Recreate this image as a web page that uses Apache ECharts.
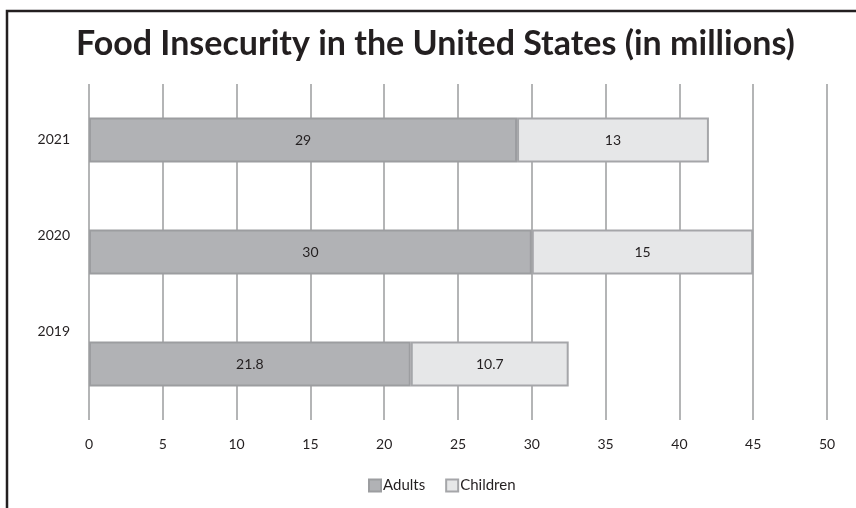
<!DOCTYPE html>
<html>
<head>
<meta charset="utf-8">
<script src="https://cdn.jsdelivr.net/npm/echarts@6/dist/echarts.min.js"></script>
<style>
html,body{margin:0;padding:0;background:#fff;}
#chart{width:856px;height:508px;}
</style>
</head>
<body>
<div id="chart"></div>
<script>
const categories = ['2019', '2020', '2021'];
const adults = [21.8, 30, 29];
const children = [10.7, 15, 13];
const xTicks = [0, 5, 10, 15, 20, 25, 30, 35, 40, 45, 50];
const titleText = 'Food Insecurity in the United States (in millions)';

const FONT = 'Lato';
const TEXT = '#231f20';

const chart = echarts.init(document.getElementById('chart'), null, {renderer: 'canvas'});
chart.setOption({
  backgroundColor: '#ffffff',
  animation: false,
  title: {
    text: titleText,
    left: 76,
    top: 27,
    padding: 0,
    textStyle: {fontFamily: FONT, fontWeight: 'bold', fontSize: 34, color: TEXT}
  },
  legend: {
    left: 368,
    top: 478,
    padding: 0,
    icon: 'rect',
    itemWidth: 12,
    itemHeight: 12,
    itemGap: 20,
    textStyle: {fontFamily: FONT, fontSize: 15, color: TEXT, padding: [0, 0, 0, -3]},
    data: ['Adults', 'Children']
  },
  grid: [
    {left: 89, width: 738, top: 84, height: 336, containLabel: false},
    {left: 89, width: 738, top: 91, height: 288, containLabel: false}
  ],
  xAxis: [
    {
      gridIndex: 0,
      type: 'value',
      min: xTicks[0],
      max: xTicks[xTicks.length - 1],
      interval: xTicks[1] - xTicks[0],
      axisLine: {show: false},
      axisTick: {show: false},
      axisLabel: {margin: 17, fontFamily: FONT, fontSize: 14, color: TEXT},
      splitLine: {show: true, lineStyle: {color: '#9b9c9e', width: 1.5}}
    },
    {
      gridIndex: 1,
      type: 'value',
      min: 0, max: 50,
      show: false
    }
  ],
  yAxis: [
    {
      gridIndex: 0,
      type: 'category',
      data: categories,
      axisLine: {show: false},
      axisTick: {show: false},
      axisLabel: {show: false},
      splitLine: {show: false}
    },
    {
      gridIndex: 1,
      type: 'category',
      data: categories,
      axisLine: {show: false},
      axisTick: {show: false},
      axisLabel: {margin: 19, fontFamily: FONT, fontSize: 14, color: TEXT},
      splitLine: {show: false}
    }
  ],
  graphic: [
    {
      type: 'rect',
      shape: {x: 7, y: 11, width: 1000, height: 1000},
      style: {fill: 'none', stroke: '#231f20', lineWidth: 2.5},
      silent: true,
      z: 100
    }
  ],
  series: [
    {
      name: 'Adults',
      type: 'bar',
      stack: 'total',
      xAxisIndex: 0,
      yAxisIndex: 0,
      barWidth: 45,
      data: adults,
      itemStyle: {color: '#b1b2b5', borderColor: '#9c9da0', borderWidth: 2},
      label: {show: true, position: 'inside', fontFamily: FONT, fontSize: 14, color: TEXT}
    },
    {
      name: 'Children',
      type: 'bar',
      stack: 'total',
      xAxisIndex: 0,
      yAxisIndex: 0,
      barWidth: 45,
      data: children,
      itemStyle: {color: '#e6e7e8', borderColor: '#a5a6a9', borderWidth: 2},
      label: {show: true, position: 'inside', fontFamily: FONT, fontSize: 14, color: TEXT}
    }
  ]
});
</script>
</body>
</html>
